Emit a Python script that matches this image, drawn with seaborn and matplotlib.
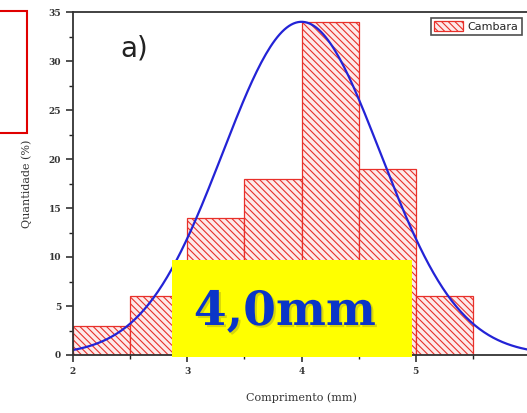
import numpy as np
import pandas as pd
import matplotlib
matplotlib.use("Agg")
import matplotlib.pyplot as plt
import matplotlib.patheffects as pe
from matplotlib.patches import Rectangle
import seaborn as sns

# histogram of lengths (Cambara)
bin_edges = [2.0, 2.5, 3.0, 3.5, 4.0, 4.5, 5.0, 5.5]
bin_centers = [2.25, 2.75, 3.25, 3.75, 4.25, 4.75, 5.25]
quantidade = [3, 6, 14, 18, 34, 19, 6]

# fitted normal curve parameters
fit_mean = 4.0
fit_sd = 0.69
fit_peak = 34.0

sns.set_style("white")
plt.rcParams["hatch.color"] = "#e8302a"
plt.rcParams["hatch.linewidth"] = 0.8

fig = plt.figure(figsize=(5.27, 4.13), dpi=100)
ax = fig.add_axes([73 / 527, 1 - 355 / 413, (530 - 73) / 527, (355 - 12) / 413])

df = pd.DataFrame({"comprimento": bin_centers, "quantidade": quantidade})
sns.histplot(data=df, x="comprimento", weights="quantidade", bins=bin_edges,
             ax=ax, color="#fdeaea", edgecolor="#e8302a", linewidth=0.9,
             alpha=1, label="Cambara")
for p in ax.patches:
    p.set_hatch("\\\\\\\\\\")

xs = np.linspace(2, 6, 200)
curve = pd.DataFrame({"x": xs, "y": fit_peak * np.exp(-(xs - fit_mean) ** 2 / (2 * fit_sd ** 2))})
sns.lineplot(data=curve, x="x", y="y", ax=ax, color="#2323d6", linewidth=1.6)

ax.set_xlim(2, 6)
ax.set_ylim(0, 35)
ax.set_xticks([2, 3, 4, 5, 6])
ax.set_xticks(np.arange(2, 6.01, 0.5), minor=True)
ax.set_yticks(np.arange(0, 36, 5))
ax.set_yticks(np.arange(0, 35.1, 2.5), minor=True)
ax.tick_params(axis="both", which="major", direction="out", length=5, width=1.1,
               labelsize=6.5, bottom=True, left=True, color="#222222")
ax.tick_params(axis="both", which="minor", direction="out", length=3, width=1.0,
               bottom=True, left=True, color="#222222")
for lab in ax.get_xticklabels() + ax.get_yticklabels():
    lab.set_fontfamily("DejaVu Serif")
    lab.set_fontweight("bold")
    lab.set_color("#333333")

ax.set_xlabel("Comprimento (mm)", family="DejaVu Serif", fontsize=8, color="#333333", labelpad=12)
ax.set_ylabel("Quantidade (%)", family="DejaVu Serif", fontsize=8, color="#333333", labelpad=12)

for s in ["left", "bottom", "top"]:
    ax.spines[s].set_visible(True)
    ax.spines[s].set_color("#333333")
    ax.spines[s].set_linewidth(1.3)
ax.spines["right"].set_visible(False)

leg = ax.legend(handles=[ax.patches[0]], labels=["Cambara"], loc="upper right",
                bbox_to_anchor=(522 / 527, 1 - 18 / 413), bbox_transform=fig.transFigure,
                fontsize=8, frameon=True, fancybox=False, handlelength=2.6,
                handleheight=1.0, borderpad=0.3, handletextpad=0.4, borderaxespad=0)
leg.get_frame().set_edgecolor("#222222")
leg.get_frame().set_linewidth(1.2)

fig.text(120 / 527, 1 - 48 / 413, "a)", fontsize=20, color="#222222", va="center", ha="left")

# yellow label box
fig.patches.append(Rectangle((172 / 527, 1 - 357 / 413), (412 - 172) / 527, (357 - 260) / 413,
                             transform=fig.transFigure, facecolor="#ffff00", edgecolor="none",
                             zorder=5))
fig.text(285 / 527, 1 - 312 / 413, "4,0mm", family="DejaVu Serif", fontweight="bold",
         fontsize=34, color="#0a35c8", ha="center", va="center", zorder=6,
         path_effects=[pe.withSimplePatchShadow(offset=(1.5, -1.5), shadow_rgbFace="#8a8a20", alpha=0.35)])

# red frame at the left edge
fig.patches.append(Rectangle((-10 / 527, 1 - 133 / 413), 37 / 527, (133 - 11) / 413,
                             transform=fig.transFigure, facecolor="none", edgecolor="#e00000",
                             linewidth=1.5, zorder=5))

fig.savefig("out.png", dpi=100)
